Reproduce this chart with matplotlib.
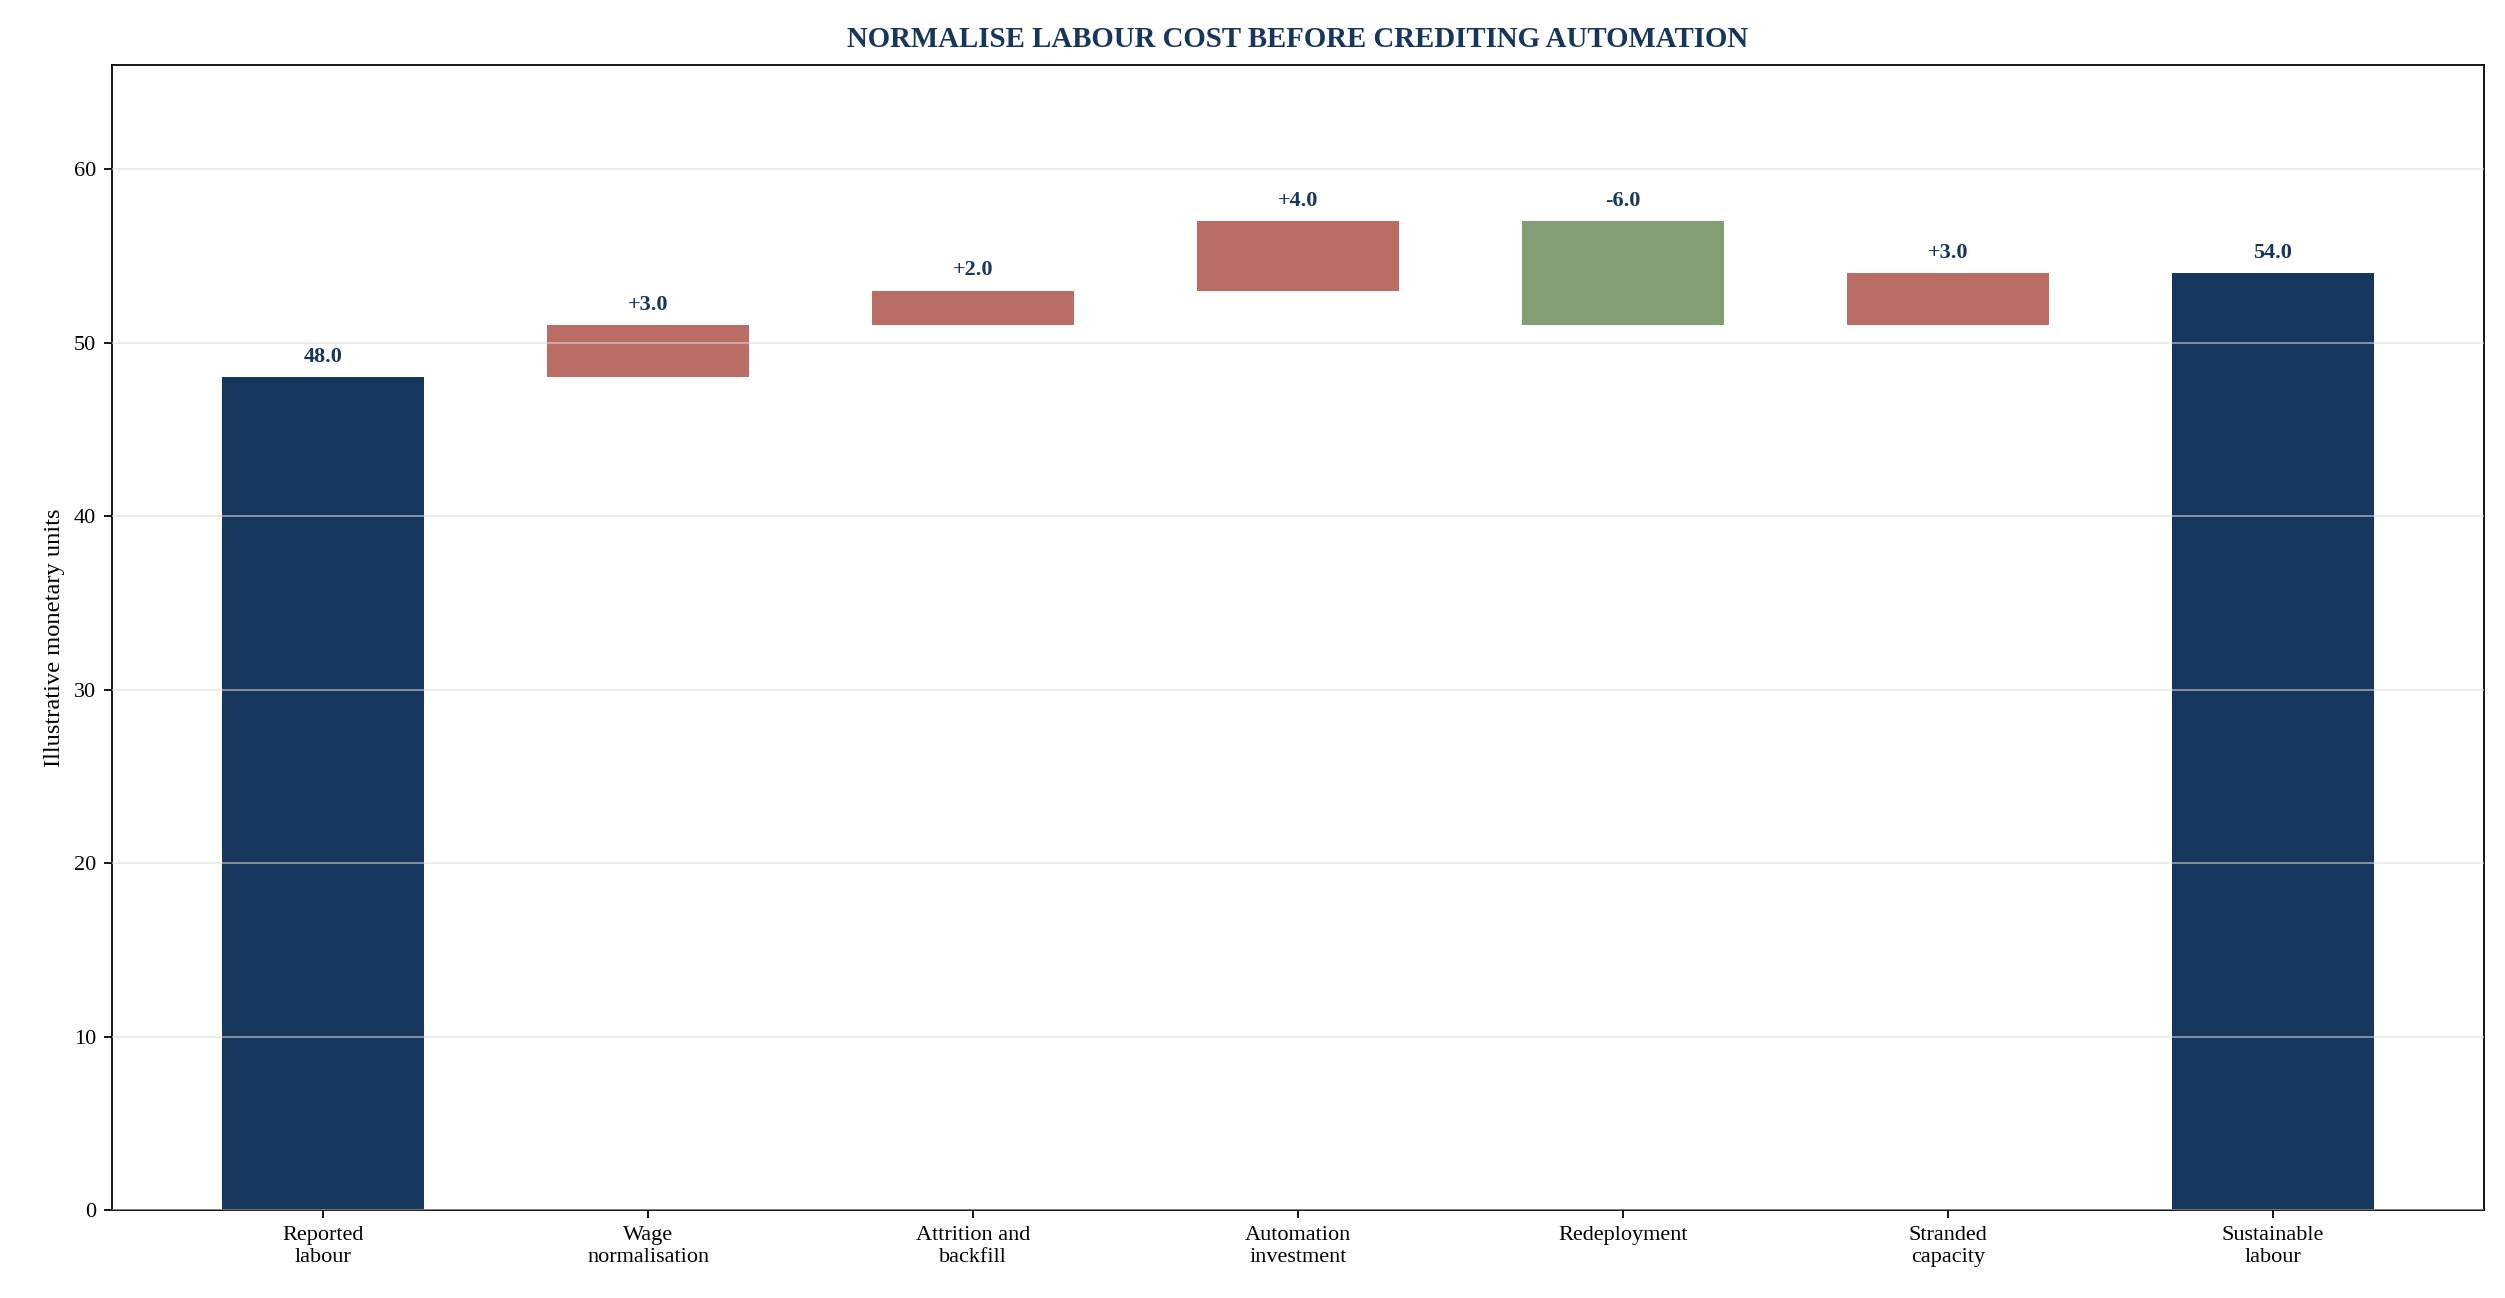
import numpy as np
import matplotlib
matplotlib.use('agg')
import matplotlib.pyplot as plt

plt.rcParams['font.family'] = ['Liberation Serif', 'DejaVu Serif']

labels = ['Reported\nlabour', 'Wage\nnormalisation', 'Attrition and\nbackfill',
          'Automation\ninvestment', 'Redeployment', 'Stranded\ncapacity', 'Sustainable\nlabour']
start_total = 48.0
changes = [3.0, 2.0, 4.0, -6.0, 3.0]

navy = '#17365d'
red = '#b5655d'
green = '#7a9a6a'

fig = plt.figure(figsize=(2505 / 160, 1298 / 160), dpi=160)
ax = fig.add_axes([70 / 1568, 54 / 800, 1485 / 1568, 706 / 800])

x = np.arange(len(labels))
w = 0.62
ax.bar(x[0], start_total, w, color=navy, zorder=2)
ax.text(x[0], start_total + 0.6, f'{start_total:.1f}', ha='center', va='bottom',
        fontsize=10, fontweight='bold', color=navy)
level = start_total
for i, c in enumerate(changes, start=1):
    lo = min(level, level + c)
    ax.bar(x[i], abs(c), w, bottom=lo, color=red if c > 0 else green, alpha=0.95, zorder=2)
    ax.text(x[i], max(level, level + c) + 0.6, f'{c:+.1f}', ha='center', va='bottom',
            fontsize=10, fontweight='bold', color=navy)
    level += c
ax.bar(x[-1], level, w, color=navy, zorder=2)
ax.text(x[-1], level + 0.6, f'{level:.1f}', ha='center', va='bottom',
        fontsize=10, fontweight='bold', color=navy)

ax.set_xlim(-0.65, len(labels) - 0.35)
ax.set_ylim(0, 66)
ax.set_yticks(range(0, 61, 10))
ax.grid(axis='y', color='#dddddd', linewidth=0.8, alpha=0.6, zorder=3)
ax.set_axisbelow(False)
ax.set_xticks(x)
ax.set_xticklabels(labels, fontsize=10)
ax.tick_params(axis='y', labelsize=10)
ax.set_ylabel('Illustrative monetary units', fontsize=11)
ax.set_title('NORMALISE LABOUR COST BEFORE CREDITING AUTOMATION', fontsize=13,
             fontweight='bold', color=navy, pad=8)

fig.savefig('out.png', dpi=160)
